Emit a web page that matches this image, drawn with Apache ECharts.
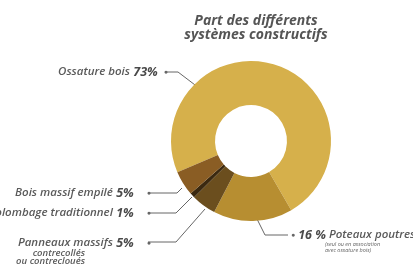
<!DOCTYPE html>
<html>
<head>
<meta charset="utf-8">
<script src="https://cdn.jsdelivr.net/npm/echarts@6/dist/echarts.min.js"></script>
<style>
html,body{margin:0;padding:0;background:#fff;}
#c{width:413px;height:271px;}
</style>
</head>
<body>
<div id="c"></div>
<script>
const categories = ['Ossature bois', 'Poteaux poutres', 'Panneaux massifs', 'Colombage traditionnel', 'Bois massif empilé'];
const values = [73, 16, 5, 1, 5];
const percentLabels = ['73%', '16 %', '5%', '1%', '5%'];
const subLabels = ['', '(seul ou en association\navec ossature bois)', 'contrecollés\nou contrecloués', '', ''];
const colors = ['#D6B04B', '#B78E31', '#6B4E1E', '#3B2910', '#8A5D24'];

// label placement (layout only)
const layout = [
  {x: 168, y: 72, align: 'right', line: [[199, 88], [178, 72], [165, 72]]},
  {x: 285, y: 241, align: 'left', line: [[257, 219], [265, 235], [288, 235]]},
  {x: 151, y: 251, align: 'right', line: [[205, 209], [176, 242], [148, 242]]},
  {x: 151, y: 213, align: 'right', line: [[192, 197], [176, 213], [148, 213]]},
  {x: 151, y: 193, align: 'right', line: [[182, 188], [177, 193], [148, 193]]}
];

const FONT = '"Open Sans", "DejaVu Sans", sans-serif';

function fmt(i) {
  if (i === 1) {
    return '{d|●}{q|' + percentLabels[i] + '}{o|' + categories[i] + '}\n' +
      subLabels[i].split('\n').map(s => '{s|' + s + '}').join('\n');
  }
  const dot = i === 0 ? '{d|●}' : '{e|●}';
  let t = '{n|' + categories[i] + '} {p|' + percentLabels[i] + '}' + dot;
  if (subLabels[i]) {
    t += '\n' + subLabels[i].split('\n').map(s => '{m|' + s + '}').join('\n');
  }
  return t;
}

const chart = echarts.init(document.getElementById('c'));
chart.setOption({
  animation: false,
  title: {
    text: 'Part des différents\nsystèmes constructifs',
    left: 251, top: 9, textAlign: 'center',
    textStyle: {fontFamily: FONT, fontStyle: 'italic', fontWeight: 'bold', fontSize: 14, color: '#555', lineHeight: 14}
  },
  series: [{
    type: 'pie',
    center: [251, 141],
    radius: [36, 80],
    startAngle: 203,
    clockwise: true,
    avoidLabelOverlap: false,
    data: categories.map((c, i) => ({
      name: c, value: values[i],
      itemStyle: {color: colors[i]},
      label: {formatter: () => fmt(i), align: layout[i].align}
    })),
    label: {
      show: true,
      position: 'outside',
      verticalAlign: 'middle',
      rich: {
        n: {fontFamily: FONT, fontStyle: 'italic', fontWeight: 600, fontSize: 11.5, color: '#5a5a5a'},
        p: {fontFamily: FONT, fontStyle: 'italic', fontWeight: 'bold', fontSize: 12.5, color: '#4a4a4a'},
        o: {fontFamily: FONT, fontStyle: 'italic', fontWeight: 600, fontSize: 11.5, color: '#5a5a5a', padding: [0, 0, 0, 3]},
        q: {fontFamily: FONT, fontStyle: 'italic', fontWeight: 'bold', fontSize: 12.5, color: '#4a4a4a', padding: [0, 0, 0, 3]},
        d: {fontSize: 7, color: '#666', padding: [0, 0, 0, 6]},
        e: {fontSize: 7, color: '#666', padding: [0, 0, 0, 13]},
        m: {fontFamily: FONT, fontStyle: 'italic', fontWeight: 600, fontSize: 9.5, color: '#5a5a5a', lineHeight: 8, padding: [0, 66, 0, 0], align: 'right'},
        s: {fontFamily: FONT, fontStyle: 'italic', fontSize: 5.5, color: '#666', lineHeight: 6, padding: [0, 0, 0, 40]}
      }
    },
    labelLine: {show: true, length: 10, length2: 10, lineStyle: {color: '#666', width: 1}},
    labelLayout: function (p) {
      const L = layout[p.dataIndex];
      return {x: L.x, y: L.y, align: L.align, verticalAlign: 'middle', labelLinePoints: L.line};
    }
  }]
});
</script>
</body>
</html>
